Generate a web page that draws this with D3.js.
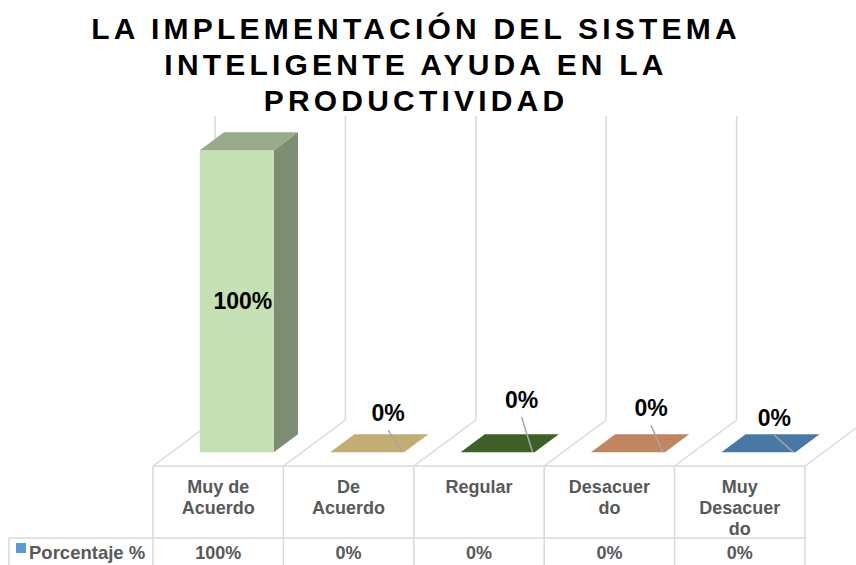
<!DOCTYPE html>
<html>
<head>
<meta charset="utf-8">
<script src="https://cdn.jsdelivr.net/npm/d3@7/dist/d3.min.js"></script>
<style>
  body { margin: 0; background: #fff; }
  svg { display: block; font-family: "Liberation Sans", Arial, sans-serif; }
</style>
</head>
<body>
<div id="graph_box"></div>
<script>
// data
const categories = ["Muy de Acuerdo", "De Acuerdo", "Regular", "Desacuerdo", "Muy Desacuerdo"];
const categoryLines = [["Muy de", "Acuerdo"], ["De", "Acuerdo"], ["Regular"], ["Desacuer", "do"], ["Muy", "Desacuer", "do"]];
const values = [100, 0, 0, 0, 0];
const seriesName = "Porcentaje %";
const titleLines = ["LA IMPLEMENTACIÓN DEL SISTEMA", "INTELIGENTE AYUDA EN LA", "PRODUCTIVIDAD"];
const barColors = ["#c5e0b4", "#c4ad72", "#3e5f26", "#bf8660", "#4a78a6"];

const width = 856, height = 565;
const base = 466;              // floor front edge / table top
const DX = 62, DY = -46;       // depth vector of the floor
const d0 = 0.3, d1 = 0.69;     // bar depth (fraction of floor)
const barW = 74;
const gridColor = "#d9d9d9";
const textGray = "#595959";
// hand-placed offsets of the 0% labels from the bar's front-right corner
const labelNudge = [[0, 0], [-16, -39], [-13, -52], [-14, -44], [-21, -34]];

const svg = d3.select("#graph_box")
    .append("svg")
    .attr("width", width)
    .attr("height", height);

const x = d3.scaleBand()
    .domain(categories)
    .range([153, 805])
    .padding(0);

const y = d3.scaleLinear()
    .domain([0, 100])
    .range([0, 302]);

const step = x.step();
function P(px, h, d) { return [px + d * DX, base - h + d * DY]; }
function poly(pts) { return pts.map(p => p.join(",")).join(" "); }

// title
svg.append("g")
    .selectAll("text")
    .data(titleLines)
    .enter()
    .append("text")
    .attr("x", 416)
    .attr("y", (d, i) => 39 + i * 36)
    .attr("text-anchor", "middle")
    .style("font-size", "30px")
    .style("font-weight", "bold")
    .style("letter-spacing", "4.2px")
    .attr("fill", "#000")
    .text(d => d);

// back walls and floor dividers
const bounds = d3.range(categories.length + 1).map(i => 153 + i * step);
const grid = svg.append("g").attr("stroke", gridColor).attr("stroke-width", 1.5).attr("fill", "none");
bounds.forEach(bx => {
    const back = P(bx, 0, 1), top = P(bx, y(100), 1), front = P(bx, 0, 0);
    grid.append("line").attr("x1", back[0]).attr("y1", back[1]).attr("x2", top[0]).attr("y2", top[1] - 2);
    grid.append("line").attr("x1", front[0]).attr("y1", front[1]).attr("x2", back[0]).attr("y2", back[1]);
});

// data table
const table = svg.append("g").attr("stroke", gridColor).attr("stroke-width", 1.5);
table.append("line").attr("x1", 153).attr("x2", 805).attr("y1", base).attr("y2", base);
table.append("line").attr("x1", 9).attr("x2", 805).attr("y1", 538).attr("y2", 538);
table.append("line").attr("x1", 9).attr("x2", 9).attr("y1", 538).attr("y2", height);
bounds.forEach(bx => {
    table.append("line").attr("x1", bx).attr("x2", bx).attr("y1", base).attr("y2", height);
});

const headers = svg.append("g")
    .selectAll("g")
    .data(categories)
    .enter()
    .append("g");
headers.selectAll("text")
    .data((d, i) => categoryLines[i].map(t => ({ t: t, c: d })))
    .enter()
    .append("text")
    .attr("x", d => x(d.c) + step / 2)
    .attr("y", (d, j) => 493 + j * 21)
    .attr("text-anchor", "middle")
    .style("font-size", "18px")
    .style("font-weight", "bold")
    .attr("fill", textGray)
    .text(d => d.t);

svg.append("g")
    .selectAll("text")
    .data(values)
    .enter()
    .append("text")
    .attr("x", (d, i) => x(categories[i]) + step / 2)
    .attr("y", 559)
    .attr("text-anchor", "middle")
    .style("font-size", "18px")
    .style("font-weight", "bold")
    .attr("fill", textGray)
    .text(d => d + "%");

svg.append("rect")
    .attr("x", 16).attr("y", 543).attr("width", 10).attr("height", 10)
    .attr("fill", "#5b9bd5");
svg.append("text")
    .attr("x", 29).attr("y", 559)
    .style("font-size", "18.5px")
    .style("font-weight", "bold")
    .attr("fill", textGray)
    .text(seriesName);

// 3D bars
const bars = svg.append("g");
values.forEach((v, i) => {
    const bx = x(categories[i]) + (step - barW) / 2;
    const h = y(v);
    const col = d3.color(barColors[i]);
    const g = bars.append("g");
    if (h > 0) {
        g.append("polygon")
            .attr("points", poly([P(bx + barW, 0, d0), P(bx + barW, 0, d1), P(bx + barW, h, d1), P(bx + barW, h, d0)]))
            .attr("fill", col.darker(1.3).formatHex());
        g.append("polygon")
            .attr("points", poly([P(bx, 0, d0), P(bx + barW, 0, d0), P(bx + barW, h, d0), P(bx, h, d0)]))
            .attr("fill", col.formatHex());
    }
    g.append("polygon")
        .attr("points", poly([P(bx, h, d0), P(bx + barW, h, d0), P(bx + barW, h, d1), P(bx, h, d1)]))
        .attr("fill", h > 0 ? col.darker(0.75).formatHex() : col.formatHex());

    // value labels
    if (h > 0) {
        const c = P(bx + barW / 2, h / 2, d0);
        svg.append("text")
            .attr("x", c[0] + 6).attr("y", c[1] + 8)
            .attr("text-anchor", "middle")
            .style("font-size", "23px")
            .style("font-weight", "bold")
            .attr("fill", "#000")
            .text(v + "%");
    } else {
        const corner = P(bx + barW, 0, d0);
        const lx = corner[0] + labelNudge[i][0], ly = corner[1] + labelNudge[i][1];
        svg.append("line")
            .attr("x1", lx).attr("y1", ly + 17)
            .attr("x2", corner[0] - 2).attr("y2", corner[1])
            .attr("stroke", "#a6a6a6").attr("stroke-width", 1.5);
        svg.append("text")
            .attr("x", lx).attr("y", ly + 8)
            .attr("text-anchor", "middle")
            .style("font-size", "23px")
            .style("font-weight", "bold")
            .attr("fill", "#000")
            .text(v + "%");
    }
});
</script>
</body>
</html>
